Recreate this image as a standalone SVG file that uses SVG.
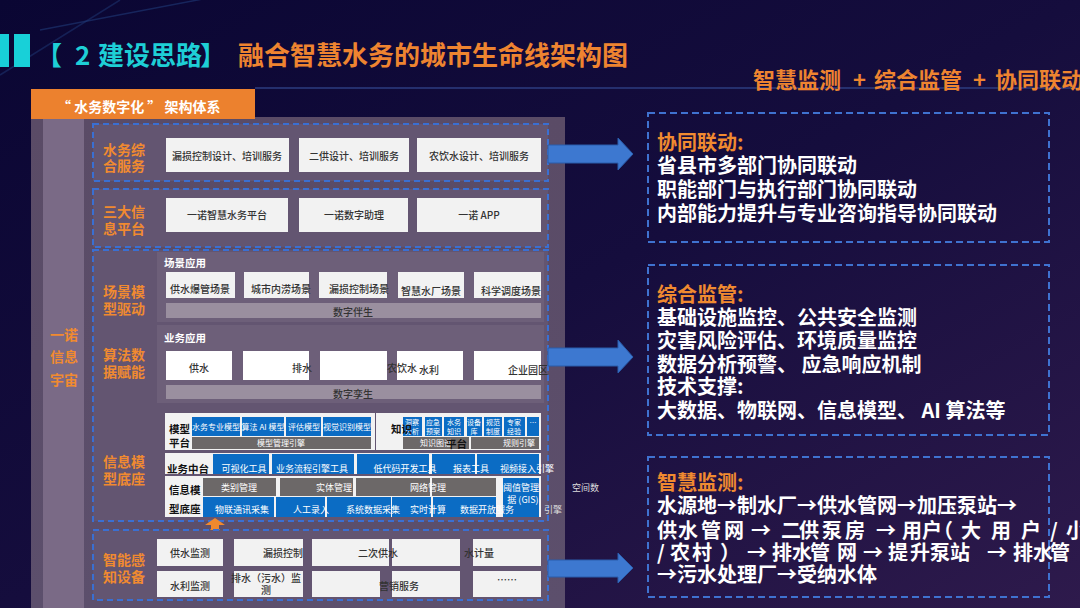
<svg xmlns="http://www.w3.org/2000/svg" width="1080" height="608" viewBox="0 0 1080 608">
<defs>
<linearGradient id="bg" x1="0" y1="0" x2="1" y2="1">
<stop offset="0" stop-color="#0a0633"/>
<stop offset="0.5" stop-color="#150d3d"/>
<stop offset="1" stop-color="#2e1a4c"/>
</linearGradient>
<linearGradient id="pan" x1="0" y1="0" x2="0" y2="1">
<stop offset="0" stop-color="#5a4b66"/>
<stop offset="1" stop-color="#5c4f6c"/>
</linearGradient>
<style>
text{font-family:"Noto Sans CJK SC","Noto Sans",sans-serif}
.lay{fill:#635571;stroke:#3a6fd2;stroke-width:2;stroke-dasharray:6 4}
.sub{fill:#6d5f79}
.wb{fill:#f2f2f2}
.bx{font-size:10px;fill:#333;text-anchor:middle;font-weight:500}
.lb{font-size:14px;fill:#f08a30;font-weight:700}
.gbar{fill:#9a8f9f}
.bl{fill:#0b6cc4}
.gr{fill:#6c6868}
.wt{font-size:9px;fill:#fff;text-anchor:middle}
.wt8{font-size:8px;fill:#fff;text-anchor:middle}
.wt7{font-size:7px;fill:#fff;text-anchor:middle}
.bk{font-size:10.5px;fill:#111;font-weight:700}
.rb{fill:none;stroke:#3f72d0;stroke-width:2;stroke-dasharray:7 4}
.rt{font-size:20px;fill:#fff;font-weight:700}
.ro{font-size:20px;fill:#f08a30;font-weight:700}
.arr{fill:#3d78d0;stroke:#2a5cab;stroke-width:1}
</style>
</defs>
<rect width="1080" height="608" fill="url(#bg)"/>
<line x1="40" y1="30" x2="250" y2="-10" stroke="#1f3a78" stroke-width="1.5" opacity="0.6"/>
<line x1="0" y1="75" x2="120" y2="0" stroke="#1f3a78" stroke-width="1.5" opacity="0.5"/>
<line x1="255" y1="88" x2="1080" y2="88" stroke="#2c3c80" stroke-width="1.5"/>

<g id="title">
<rect x="0" y="34" width="9" height="33" fill="#18d0d8"/>
<rect x="14" y="34" width="16" height="33" fill="#18d0d8"/>
<text x="36 75 98 124 150 176 200" y="65" font-size="26" font-weight="700" fill="#1ecfd6">【2建设思路】</text>
<text x="238" y="65" font-size="26" font-weight="700" fill="#ee8430">融合智慧水务的城市生命线架构图</text>
<text y="88" font-size="22" font-weight="700" fill="#ee8430"><tspan x="753">智慧监测</tspan><tspan x="853">+</tspan><tspan x="874">综合监管</tspan><tspan x="973">+</tspan><tspan x="995">协同联动</tspan></text>
</g>

<g id="panel">
<rect x="31" y="117" width="534" height="491" fill="url(#pan)"/>
<rect x="43" y="117" width="41" height="491" fill="#7a6a86"/>
<rect x="31" y="89" width="224" height="30" fill="#ec812e"/>
<text x="57" y="112" font-size="14" font-weight="700" fill="#fff">“ 水务数字化 ” 架构体系</text>
<text x="50" y="340" class="lb">一诺</text>
<text x="50" y="362" class="lb">信息</text>
<text x="50" y="385" class="lb">宇宙</text>
</g>

<g id="layer-service">
<rect x="93" y="124" width="455" height="57" class="lay"/>
<text x="103" y="155" class="lb">水务综</text>
<text x="103" y="171" class="lb">合服务</text>
<rect x="166" y="138" width="123" height="34" class="wb"/>
<text x="227" y="160" class="bx">漏损控制设计、培训服务</text>
<rect x="299" y="138" width="110" height="34" class="wb"/>
<text x="354" y="160" class="bx">二供设计、培训服务</text>
<rect x="417" y="138" width="124" height="34" class="wb"/>
<text x="479" y="160" class="bx">农饮水设计、培训服务</text>
</g>

<g id="layer-platform">
<rect x="93" y="189" width="455" height="58" class="lay"/>
<text x="103" y="217" class="lb">三大信</text>
<text x="103" y="234" class="lb">息平台</text>
<rect x="166" y="198" width="122" height="34" class="wb"/>
<text x="227" y="219" class="bx">一诺智慧水务平台</text>
<rect x="299" y="198" width="109" height="34" class="wb"/>
<text x="354" y="219" class="bx">一诺数字助理</text>
<rect x="417" y="198" width="124" height="34" class="wb"/>
<text x="479" y="219" class="bx">一诺 APP</text>
</g>

<g id="layer-scene">
<rect x="93" y="250" width="455" height="271" class="lay"/>
<text x="103" y="297" class="lb">场景模</text>
<text x="103" y="314" class="lb">型驱动</text>
<rect x="157" y="252" width="387" height="70" class="sub"/>
<text x="164" y="267" font-size="10.5" font-weight="700" fill="#fff">场景应用</text>
<rect x="166" y="272" width="69" height="26" class="wb"/>
<rect x="244" y="272" width="65" height="26" class="wb"/>
<rect x="319" y="272" width="68" height="26" class="wb"/>
<rect x="398" y="272" width="66" height="26" class="wb"/>
<rect x="474" y="272" width="67" height="26" class="wb"/>
<text x="200" y="293" class="bx" font-size="10.5">供水爆管场景</text>
<text x="281" y="293" class="bx" font-size="10.5">城市内涝场景</text>
<text x="359" y="293" class="bx" font-size="10.5">漏损控制场景</text>
<text x="431" y="295" class="bx" font-size="10.5">智慧水厂场景</text>
<text x="511" y="295" class="bx" font-size="10.5">科学调度场景</text>
<rect x="166" y="303" width="375" height="15" class="gbar"/>
<text x="353" y="316" class="bx" font-size="10.5">数字伴生</text>
</g>

<g id="layer-algo">
<text x="103" y="360" class="lb">算法数</text>
<text x="103" y="377" class="lb">据赋能</text>
<rect x="157" y="325" width="387" height="78" class="sub"/>
<text x="164" y="342" font-size="10.5" font-weight="700" fill="#fff">业务应用</text>
<rect x="166" y="351" width="66" height="29" fill="#fff"/>
<rect x="243" y="351" width="66" height="29" fill="#fff"/>
<rect x="320" y="351" width="67" height="29" fill="#fff"/>
<rect x="397" y="351" width="66" height="29" fill="#fff"/>
<rect x="474" y="351" width="67" height="29" fill="#fff"/>
<text x="199" y="372" class="bx" font-size="10.5">供水</text>
<text x="302" y="372" class="bx" font-size="10.5">排水</text>
<text x="402" y="372" class="bx" font-size="10.5">农饮水</text>
<text x="429" y="374" class="bx" font-size="10.5">水利</text>
<text x="528" y="374" class="bx" font-size="10.5">企业园区</text>
<rect x="166" y="385" width="375" height="14" class="gbar"/>
<text x="353" y="398" class="bx" font-size="10.5">数字孪生</text>
</g>

<g id="layer-info">
<text x="103" y="467" class="lb">信息模</text>
<text x="103" y="484" class="lb">型底座</text>
<rect x="165" y="413" width="210" height="37" class="wb"/>
<rect x="376" y="413" width="165" height="37" class="wb"/>
<rect x="165" y="453" width="376" height="21" class="wb"/>
<rect x="165" y="476" width="376" height="41" class="wb"/>

<rect x="192" y="417" width="48" height="19" class="bl"/>
<rect x="242" y="417" width="42" height="19" class="bl"/>
<rect x="286" y="417" width="35" height="19" class="bl"/>
<rect x="323" y="417" width="48" height="19" class="bl"/>
<rect x="192" y="437" width="179" height="12" class="gr"/>
<text x="169" y="433" class="bk">模型</text>
<text x="169" y="447" class="bk">平台</text>
<text x="216" y="430" class="wt8">水务专业模型</text>
<text x="263" y="430" class="wt8">算法 AI 模型</text>
<text x="304" y="430" class="wt8">评估模型</text>
<text x="347" y="430" class="wt8">视觉识别模型</text>
<text x="281" y="446" class="wt8" fill="#ddd">模型管理引擎</text>

<rect x="403" y="417" width="19" height="19" class="bl"/>
<rect x="425" y="417" width="17" height="19" class="bl"/>
<rect x="444" y="417" width="20" height="19" class="bl"/>
<rect x="467" y="417" width="15" height="19" class="bl"/>
<rect x="484" y="417" width="18" height="19" class="bl"/>
<rect x="504" y="417" width="21" height="19" class="bl"/>
<rect x="527" y="417" width="12" height="19" class="bl"/>
<rect x="403" y="437" width="66" height="12" class="gr"/>
<rect x="471" y="437" width="68" height="12" class="gr"/>
<text x="412" y="425" class="wt7">洞察</text><text x="412" y="434" class="wt7">分析</text>
<text x="433" y="425" class="wt7">应急</text><text x="433" y="434" class="wt7">预案</text>
<text x="454" y="425" class="wt7">水务</text><text x="454" y="434" class="wt7">知识</text>
<text x="474" y="425" class="wt7">设备</text><text x="474" y="434" class="wt7">库</text>
<text x="493" y="425" class="wt7">规范</text><text x="493" y="434" class="wt7">制度</text>
<text x="514" y="425" class="wt7">专家</text><text x="514" y="434" class="wt7">经验</text>
<text x="533" y="425" class="wt7">…</text>
<text x="436" y="446" class="wt8" fill="#ddd">知识图谱</text>
<text x="519" y="446" class="wt8" fill="#ddd">规则引擎</text>
<text x="391" y="433" class="bk" font-size="12">知识</text>
<text x="446" y="448" class="bk" font-size="12">平台</text>

<rect x="213" y="454" width="56" height="20" class="bl"/>
<rect x="272" y="454" width="82" height="20" class="bl"/>
<rect x="357" y="454" width="72" height="20" class="bl"/>
<rect x="432" y="454" width="43" height="20" class="bl"/>
<rect x="477" y="454" width="62" height="20" class="bl"/>
<text x="167" y="473" class="bk" font-size="10">业务中台</text>
<text x="244" y="472" class="wt">可视化工具</text>
<text x="312" y="472" class="wt">业务流程引擎工具</text>
<text x="405" y="472" class="wt">低代码开发工具</text>
<text x="471" y="472" class="wt">报表工具</text>
<text x="527" y="472" class="wt">视频接入引擎</text>

<rect x="203" y="478" width="73" height="18" class="gr"/>
<rect x="280" y="478" width="73" height="18" class="gr"/>
<rect x="356" y="478" width="74" height="18" class="gr"/>
<rect x="432" y="478" width="64" height="18" class="gr"/>
<rect x="203" y="497" width="71" height="20" class="bl"/>
<rect x="276" y="497" width="49" height="20" class="bl"/>
<rect x="327" y="497" width="64" height="20" class="bl"/>
<rect x="392" y="497" width="39" height="20" class="bl"/>
<rect x="433" y="497" width="63" height="20" class="bl"/>
<rect x="503" y="478" width="36" height="39" class="bl"/>
<text x="169" y="494" class="bk" font-size="10">信息模</text>
<text x="169" y="513" class="bk" font-size="10">型底座</text>
<text x="239" y="491" class="wt" fill="#eee">类别管理</text>
<text x="334" y="491" class="wt" fill="#eee">实体管理</text>
<text x="428" y="491" class="wt" fill="#eee">网络管理</text>
<text x="242" y="513" class="wt">物联通讯采集</text>
<text x="311" y="513" class="wt">人工录入</text>
<text x="373" y="513" class="wt">系统数据采集</text>
<text x="428" y="513" class="wt">实时计算</text>
<text x="487" y="513" class="wt">数据开放服务</text>
<text x="521" y="491" class="wt">阈值管理</text>
<text x="523" y="503" class="wt">据 (GIS)</text>
<text x="544" y="513" font-size="9" fill="#ddd">引擎</text>
<text x="572" y="491" font-size="9" fill="#ddd">空间数</text>
<path d="M215 518 L225 525 L219 525 L219 529 L224 533 L206 533 L211 529 L211 525 L205 525 Z" fill="#f0892e"/>
</g>

<g id="layer-sense">
<rect x="93" y="530" width="455" height="70" class="lay"/>
<text x="103" y="565" class="lb">智能感</text>
<text x="103" y="582" class="lb">知设备</text>
<rect x="157" y="539" width="66" height="27" class="wb"/>
<rect x="234" y="539" width="69" height="27" class="wb"/>
<rect x="312" y="539" width="77" height="27" class="wb"/>
<rect x="392" y="539" width="68" height="27" class="wb"/>
<rect x="473" y="539" width="68" height="27" class="wb"/>
<rect x="157" y="571" width="66" height="26" class="wb"/>
<rect x="234" y="571" width="69" height="26" class="wb"/>
<rect x="312" y="571" width="68" height="26" class="wb"/>
<rect x="392" y="571" width="68" height="26" class="wb"/>
<rect x="473" y="571" width="68" height="26" class="wb"/>
<text x="190" y="557" class="bx" font-size="10.5">供水监测</text>
<text x="283" y="557" class="bx" font-size="10.5">漏损控制</text>
<text x="378" y="557" class="bx" font-size="10.5">二次供水</text>
<text x="479" y="557" class="bx" font-size="10.5">水计量</text>
<text x="190" y="590" class="bx" font-size="10.5">水利监测</text>
<text x="266" y="582" class="bx" font-size="10.5">排水（污水）监</text>
<text x="266" y="594" class="bx" font-size="10.5">测</text>
<text x="399" y="590" class="bx" font-size="10.5">营销服务</text>
<text x="507" y="584" class="bx" font-size="10.5">……</text>
</g>

<g id="connectors">
<path class="arr" d="M548 145 H618 V138 L633 154 L618 170 V163 H548 Z"/>
<path class="arr" d="M548 348 H618 V340 L633 357 L618 373 V366 H548 Z"/>
<path class="arr" d="M548 560 H618 V553 L633 568 L618 583 V577 H548 Z"/>
</g>

<g id="box-linkage">
<rect x="648" y="113" width="401" height="129" class="rb"/>
<text x="657" y="150" class="ro">协同联动:</text>
<text x="657" y="173" class="rt">省县市多部门协同联动</text>
<text x="657" y="197" class="rt">职能部门与执行部门协同联动</text>
<text x="657" y="221" class="rt">内部能力提升与专业咨询指导协同联动</text>
</g>

<g id="box-supervision">
<rect x="648" y="265" width="401" height="170" class="rb"/>
<text x="657" y="302" class="ro">综合监管:</text>
<text x="657" y="325" class="rt">基础设施监控、公共安全监测</text>
<text x="657" y="348" class="rt">灾害风险评估、环境质量监控</text>
<text x="657" y="372" class="rt">数据分析预警、 应急响应机制</text>
<text x="657" y="394" class="rt">技术支撑:</text>
<text x="657" y="418" class="rt">大数据、物联网、信息模型、 AI 算法等</text>
</g>

<g id="box-monitor">
<rect x="648" y="457" width="401" height="140" class="rb"/>
<text x="657" y="490" class="ro">智慧监测:</text>
<text x="657" y="513" class="rt">水源地→制水厂→供水管网→加压泵站→</text>
<text x="657 678 701 724 751 781 799 822 845 876 902 922 933 961 991 1021 1050 1066" y="538" class="rt">供水管网→二供泵房→用户（大用户/小</text>
<text x="657 670 692 720 747 772 792 810 837 863 888 910 930 950 987 1013 1033 1050" y="560" class="rt">/农村）→排水管网→提升泵站→排水管</text>
<text x="657" y="582" class="rt">→污水处理厂→受纳水体</text>
</g>
</svg>
